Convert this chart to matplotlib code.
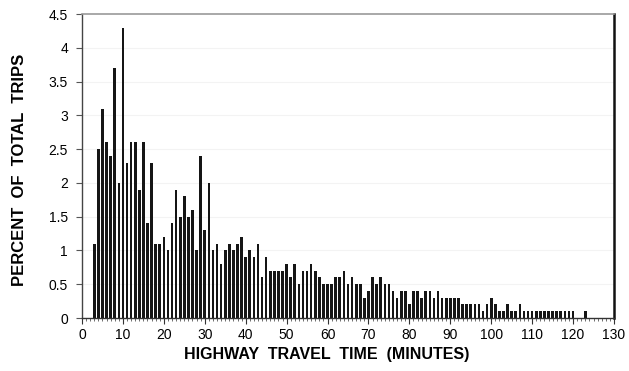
import matplotlib
matplotlib.use("Agg")
import matplotlib.pyplot as plt
from matplotlib.ticker import MultipleLocator

plt.rcParams['font.family'] = ['Liberation Sans', 'DejaVu Sans']

# travel time in minutes
minutes = list(range(3, 124))
# percent of total trips
percent = [
    1.1, 2.5, 3.1, 2.6, 2.4, 3.7, 2.0, 4.3, 2.3, 2.6,   # 3-12
    2.6, 1.9, 2.6, 1.4, 2.3, 1.1, 1.1, 1.2, 1.0, 1.4,   # 13-22
    1.9, 1.5, 1.8, 1.5, 1.6, 1.0, 2.4, 1.3, 2.0, 1.0,   # 23-32
    1.1, 0.8, 1.0, 1.1, 1.0, 1.1, 1.2, 0.9, 1.0, 0.9,   # 33-42
    1.1, 0.6, 0.9, 0.7, 0.7, 0.7, 0.7, 0.8, 0.6, 0.8,   # 43-52
    0.5, 0.7, 0.7, 0.8, 0.7, 0.6, 0.5, 0.5, 0.5, 0.6,   # 53-62
    0.6, 0.7, 0.5, 0.6, 0.5, 0.5, 0.3, 0.4, 0.6, 0.5,   # 63-72
    0.6, 0.5, 0.5, 0.4, 0.3, 0.4, 0.4, 0.2, 0.4, 0.4,   # 73-82
    0.3, 0.4, 0.4, 0.3, 0.4, 0.3, 0.3, 0.3, 0.3, 0.3,   # 83-92
    0.2, 0.2, 0.2, 0.2, 0.2, 0.1, 0.2, 0.3, 0.2, 0.1,   # 93-102
    0.1, 0.2, 0.1, 0.1, 0.2, 0.1, 0.1, 0.1, 0.1, 0.1,   # 103-112
    0.1, 0.1, 0.1, 0.1, 0.1, 0.1, 0.1, 0.1, 0.0, 0.0,   # 113-122
    0.1,                                                # 123
]

x_ticks = list(range(0, 131, 10))
y_ticks = [0, 0.5, 1, 1.5, 2, 2.5, 3, 3.5, 4, 4.5]
y_tick_labels = ["0", "0.5", "1", "1.5", "2", "2.5", "3", "3.5", "4", "4.5"]

fig = plt.figure(figsize=(6.29, 3.71), dpi=100)
ax = fig.add_axes([82 / 629, 1 - 318 / 371, 532 / 629, 304 / 371])

for yv in y_ticks[1:-1]:
    ax.axhline(yv, color="#f3f3f3", lw=0.8, zorder=0)

ax.bar(minutes, percent, width=0.65, color="#151515", zorder=2)

ax.set_xlim(0, 130)
ax.set_ylim(0, 4.5)
ax.set_xticks(x_ticks)
ax.set_xticklabels([str(t) for t in x_ticks], fontsize=10)
ax.xaxis.set_minor_locator(MultipleLocator(1))
ax.set_yticks(y_ticks)
ax.set_yticklabels(y_tick_labels, fontsize=10)

ax.tick_params(axis="x", which="major", length=4, width=0.8, pad=3, color="#333333")
ax.tick_params(axis="x", which="minor", length=2, width=0.6, color="#555555")
ax.tick_params(axis="y", which="major", length=4, width=0.8, pad=6, color="#555555")

ax.spines["left"].set_color("#444444")
ax.spines["left"].set_linewidth(1.0)
ax.spines["bottom"].set_color("#333333")
ax.spines["bottom"].set_linewidth(1.0)
ax.spines["top"].set_color("#999999")
ax.spines["top"].set_linewidth(1.2)
ax.spines["right"].set_color("#111111")
ax.spines["right"].set_linewidth(1.8)

ax.set_xlabel("HIGHWAY  TRAVEL  TIME  (MINUTES)", fontsize=11.5, fontweight="bold")
ax.xaxis.set_label_coords(0.459, -0.095)
ax.set_ylabel("PERCENT  OF  TOTAL  TRIPS", fontsize=12, fontweight="bold")
ax.yaxis.set_label_coords(-0.103, 0.487)

fig.savefig("out.png", dpi=100)
